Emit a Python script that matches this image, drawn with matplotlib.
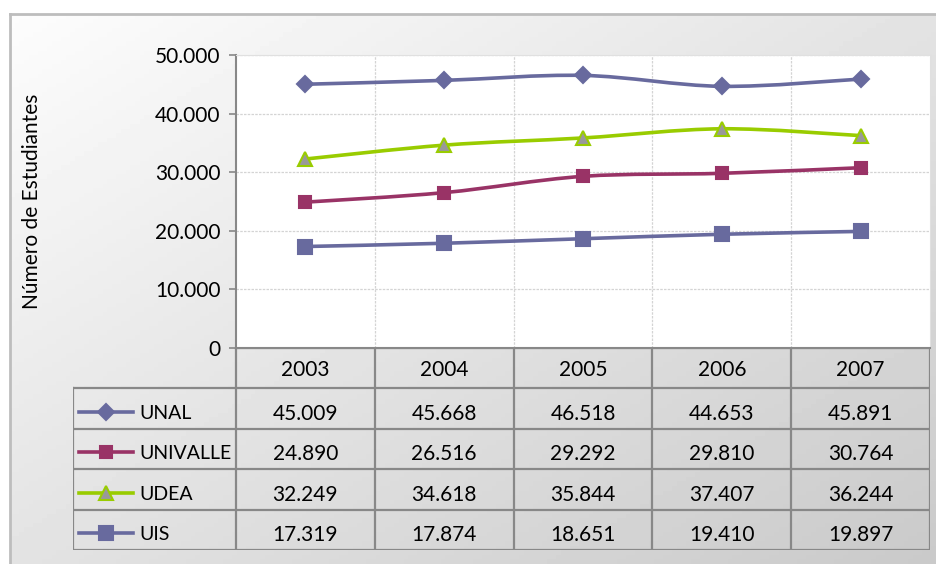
import numpy as np
import matplotlib.pyplot as plt
from matplotlib.path import Path
from matplotlib.patches import PathPatch

plt.rcParams['font.family'] = ['Lato', 'DejaVu Sans']

anios = ['2003', '2004', '2005', '2006', '2007']
series = ['UNAL', 'UNIVALLE', 'UDEA', 'UIS']
unal = [45009, 45668, 46518, 44653, 45891]
univalle = [24890, 26516, 29292, 29810, 30764]
udea = [32249, 34618, 35844, 37407, 36244]
uis = [17319, 17874, 18651, 19410, 19897]
valores = [unal, univalle, udea, uis]

colores = ['#686a9e', '#993366', '#99cc00', '#686a9e']
marcadores = ['D', 's', '^', 's']
tam_marc = [8, 8, 10, 10]
relleno = ['#686a9e', '#993366', '#999999', '#686a9e']

W, H = 936, 564
fig = plt.figure(figsize=(W / 100, H / 100), dpi=100)

def caja(x0, y0, x1, y1):
    # pixeles (desde arriba) -> fraccion de figura
    return [x0 / W, 1 - y1 / H, (x1 - x0) / W, (y1 - y0) / H]

# fondo con degradado
bg = fig.add_axes(caja(10, 14, 936, 564), zorder=-10)
gx, gy = np.meshgrid(np.linspace(0, 1, 200), np.linspace(0, 1, 120))
grad = 0.99 - 0.1 * gx - 0.1 * gy
bg.imshow(grad, cmap='gray', vmin=0, vmax=1, aspect='auto', extent=[0, 1, 0, 1])
bg.set_xticks([])
bg.set_yticks([])
for s in ['right', 'bottom']:
    bg.spines[s].set_visible(False)
for s in ['left', 'top']:
    bg.spines[s].set_color('#bdbdbd')
    bg.spines[s].set_linewidth(2)

# grafico
ax = fig.add_axes(caja(236, 55, 930, 348))
ax.set_facecolor('white')
ax.set_xlim(0, 5)
ax.set_ylim(0, 50000)
ax.set_yticks(range(0, 50001, 10000))
ax.set_yticklabels(['0' if v == 0 else f'{v:,}'.replace(',', '.') for v in range(0, 50001, 10000)],
                   fontsize=15)
ax.set_xticks([])
ax.tick_params(axis='y', length=5, color='#888888', width=1.2, pad=6)
for v in range(10000, 50001, 10000):
    ax.axhline(v, color='#d4d4d4', lw=0.9, ls=(0, (2, 1)), zorder=0)
for i in range(1, 5):
    ax.axvline(i, color='#d4d4d4', lw=0.9, ls=(0, (2, 1)), zorder=0)
for s in ['top', 'right']:
    ax.spines[s].set_color('#e0e0e0')
    ax.spines[s].set_linewidth(0.8)
    ax.spines[s].set_linestyle((0, (2, 1)))
for s in ['left', 'bottom']:
    ax.spines[s].set_color('#888888')
    ax.spines[s].set_linewidth(1.5)
ax.set_ylabel('Número de Estudiantes', fontsize=15)
ax.yaxis.set_label_coords(-(236 - 32) / (930 - 236), 0.5)
ax.yaxis.label.set_va('center')

xs = np.arange(len(anios)) + 0.5

def curva(x, y):
    # linea suavizada tipo Excel (Bezier)
    p = np.column_stack([x, y]).astype(float)
    ext = np.vstack([p[0], p, p[-1]])
    verts = [p[0]]
    codes = [Path.MOVETO]
    for i in range(len(p) - 1):
        c1 = ext[i + 1] + (ext[i + 2] - ext[i]) / 6
        c2 = ext[i + 2] - (ext[i + 3] - ext[i + 1]) / 6
        verts += [c1, c2, ext[i + 2]]
        codes += [Path.CURVE4] * 3
    return Path(verts, codes)

for y, c, m, ms, fc in zip(valores, colores, marcadores, tam_marc, relleno):
    ax.add_patch(PathPatch(curva(xs, y), fill=False, edgecolor=c, lw=2.6, zorder=3))
    ax.plot(xs, y, ls='none', marker=m, ms=ms, mfc=fc, mec=c, mew=1.5, zorder=4)

# tabla de datos
izq = -(236 - 73) / ((930 - 236) / 5)
tx = fig.add_axes(caja(73, 348, 930, 550))
tx.set_xlim(izq, 5)
tx.set_ylim(5, 0)
tx.axis('off')
borde = dict(color='#888888', lw=1.6, solid_capstyle='projecting')
tx.plot([0, 5], [0, 0], **borde)
for r in range(1, 6):
    tx.plot([izq, 5], [r, r], **borde)
tx.plot([izq, izq], [1, 5], **borde)
for cx in range(0, 6):
    tx.plot([cx, cx], [0, 5], **borde)

for j, a in enumerate(anios):
    tx.text(j + 0.5, 0.5, a, ha='center', va='center_baseline', fontsize=15)
for i, (nom, y) in enumerate(zip(series, valores)):
    fila = i + 1.58
    tx.plot([izq + 0.04, izq + 0.43], [fila, fila], color=colores[i], lw=2.6)
    tx.plot([izq + 0.235], [fila], ls='none', marker=marcadores[i], ms=tam_marc[i],
            mfc=relleno[i], mec=colores[i], mew=1.5)
    tx.text(izq + 0.475, fila, nom, ha='left', va='center_baseline', fontsize=14)
    for j, v in enumerate(y):
        tx.text(j + 0.5, fila, f'{v:,}'.replace(',', '.'), ha='center', va='center_baseline',
                fontsize=15)

fig.savefig('out.png', dpi=100)
